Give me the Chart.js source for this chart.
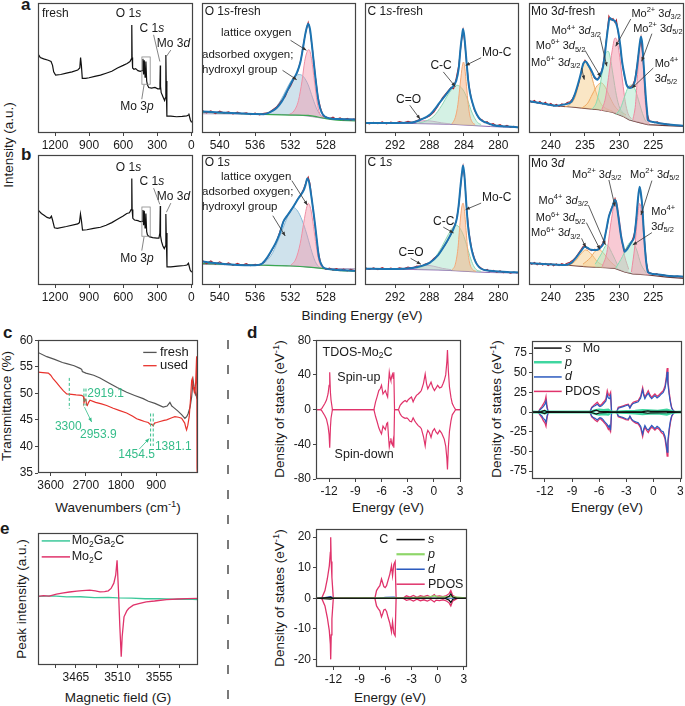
<!DOCTYPE html>
<html>
<head>
<meta charset="utf-8">
<script src="https://cdn.jsdelivr.net/npm/chart.js@4.4.1/dist/chart.umd.min.js"></script>
<style>
  body { margin: 0; width: 685px; height: 706px; position: relative; overflow: hidden; background: #fff;
         font-family: "Liberation Sans", Arial, sans-serif; color: #1a1a1a; }
  canvas { position: absolute; }
  .lab { position: absolute; font-size: 13.5px; white-space: nowrap; line-height: 1; }
  .ylab { transform: translate(-50%, -50%) rotate(-90deg); }
  .xlab { transform: translate(-50%, -50%); }
  .letter { position: absolute; font-weight: bold; font-size: 17px; line-height: 1; }
  sup, sub { font-size: 70%; line-height: 0; }
</style>
</head>
<body>
<svg style="position:absolute;left:0;top:0" width="685" height="706">
  <line x1="228" y1="340" x2="228" y2="706" stroke="#222" stroke-width="1.2" stroke-dasharray="9 16"/>
</svg>
<div class="letter" style="left:21px;top:-4px">a</div>
<div class="letter" style="left:21px;top:146px">b</div>
<div class="letter" style="left:3px;top:324px">c</div>
<div class="letter" style="left:247px;top:324px">d</div>
<div class="letter" style="left:0px;top:520px">e</div>

<div class="lab ylab" style="left:9px;top:145px">Intensity (a.u.)</div>
<div class="lab xlab" style="left:362px;top:316px">Binding Energy (eV)</div>
<div class="lab ylab" style="left:7px;top:406px">Transmittance (%)</div>
<div class="lab xlab" style="left:118px;top:508px">Wavenumbers (cm<sup>-1</sup>)</div>
<div class="lab ylab" style="left:280px;top:409px">Density of states (eV<sup>-1</sup>)</div>
<div class="lab xlab" style="left:388px;top:508px">Energy (eV)</div>
<div class="lab ylab" style="left:497px;top:409px">Density of states (eV<sup>-1</sup>)</div>
<div class="lab xlab" style="left:607px;top:508px">Energy (eV)</div>
<div class="lab ylab" style="left:280px;top:598px">Density of states (eV<sup>-1</sup>)</div>
<div class="lab xlab" style="left:390px;top:698px">Energy (eV)</div>
<div class="lab ylab" style="left:22px;top:599px">Peak intensity (a.u.)</div>
<div class="lab xlab" style="left:118px;top:698px">Magnetic field (G)</div>

<script>
// ---- XPS survey (a, b) ----
const surveyFresh = [[1350,61],[1330,58],[1300,57],[1260,56],[1235,55],[1222,52],[1212,47],[1195,44.5],[1150,45],[1100,46],[1050,47],[1000,48.5],[982,50],[975,58],[968,52],[960,42],[930,42],[900,42.5],[850,43.5],[800,44.5],[750,46],[700,47.5],[650,50],[600,52],[565,53.5],[540,55],[528,57],[525,62],[523,83],[521,58],[517,50],[505,49],[490,49.5],[470,48],[450,47.5],[432,48],[426,57],[420,45],[414,56],[407,43],[400,55],[393,40],[386,37],[375,35],[350,34.5],[320,35],[295,34],[282,34],[276,38],[273,52],[271,36],[265,31],[255,29],[245,27],[235,25],[228,27],[225,35],[223,60],[221,40],[215,13],[180,13],[130,12.5],[80,12.8],[40,13.2],[25,13.8],[21,15],[17,13],[8,10],[0,8.5],[-15,8.5]];
const surveyUsed = [[1350,57.7],[1320,55],[1300,53.8],[1270,52],[1245,51.3],[1232,53],[1222,50],[1205,44],[1180,43.6],[1100,45],[1000,47],[985,48],[976,54.6],[968,50],[958,42.3],[920,42.5],[860,43.5],[800,44.4],[750,46],[700,48],[650,50.5],[600,53],[568,55],[545,55.5],[530,58],[525,65],[523,82],[521,58],[515,51.3],[500,50],[470,49.5],[450,48.7],[432,49],[426,57.7],[420,46],[414,57],[407,44],[400,55],[393,41],[386,38.5],[370,37.2],[340,36.5],[303,36],[285,36],[277,40],[273,60.8],[271,38],[262,33.3],[250,30],[238,28],[228,30],[225,38],[223,54.6],[221,40],[214,14],[180,14],[120,14.5],[60,15],[38,15.4],[25,16.7],[20,15],[10,11.5],[0,10.3],[-15,10]];
const surveyTicks = [1200, 900, 600, 300, 0];

// ---- O 1s ----
const o1sTicks = [540, 536, 532, 528];
const o1sFreshEnv = [[542,16.5],[540,15.8],[538,15.2],[536,14.6],[535,14.5],[534.3,16],[533.6,19],[533,24],[532.4,32],[531.8,40],[531.3,46],[530.9,54],[530.6,65],[530.3,77],[530,84],[529.8,80],[529.6,69],[529.4,56],[529.2,43.6],[529,32],[528.8,23],[528.5,16],[528.1,12.5],[527.5,11.2],[526,10.6],[524.6,10.3]];
const o1sFreshRaw = [[542,17.5],[541.5,15.5],[541,17],[540.5,15],[540,16.8],[539.5,15.3],[539,16.2],[538.5,14.6],[538,16],[537.5,14.8],[537,15.6],[536.5,14.2],[536,15.4],[535.5,14],[535,15.2],[534.5,15.5],[534,18],[533.5,20.5],[533,25],[532.6,28],[532.3,33],[532,36],[531.6,42],[531.2,47],[530.8,57],[530.5,70],[530.2,80],[530,85],[529.8,79],[529.5,63],[529.2,44],[528.9,28],[528.6,19],[528.3,13],[528,12.5],[527.6,11],[527.2,12.2],[526.8,10.5],[526.4,11.6],[526,10],[525.6,11.2],[525.2,9.8],[524.8,10.8]];
const o1sFreshAds = [[535,14.5],[534.3,16],[533.5,21],[532.8,29],[532.2,37],[531.6,43],[531,45],[530.5,43],[530,37],[529.5,27],[529,18],[528.5,13],[528,11.5]];
const o1sFreshLat = [[532.2,14],[531.6,17],[531.1,25],[530.7,40],[530.4,55],[530.1,63],[529.9,64],[529.6,56],[529.3,40],[529,24],[528.7,15],[528.3,12],[528,11.5]];
const o1sFreshBg = [[542,14.8],[535,14.5],[533,14.3],[531,13.8],[529.5,12.5],[528.5,11.5],[528,11.2],[524.6,11]];
const o1sFreshLine = [[542,16],[538,15],[535,14.3],[532,13.8],[530,13.5],[529,12.5],[528,11],[527,10],[524.6,9.3]];

const o1sUsedEnv = [[542,18],[540,16.5],[538,15.4],[536,15.2],[535.3,16],[534.7,20.5],[534.2,26],[533.7,32],[533.2,40],[532.8,48.7],[532.3,54],[531.8,59],[531.1,66.7],[530.5,73],[530.3,77],[530.1,82],[529.9,79],[529.6,66],[529.4,56],[529.2,45],[529,33],[528.8,21.8],[528.5,15.5],[528.1,12.8],[527,11.8],[524.6,11]];
const o1sUsedRaw = [[542,19],[541.5,16.5],[541,18.5],[540.5,16],[540,17.8],[539.5,15.6],[539,17],[538.5,15],[538,16.6],[537.5,15.2],[537,16.4],[536.5,14.8],[536,16],[535.5,15.4],[535,17.5],[534.5,22],[534,28],[533.6,33],[533.2,41],[532.8,49],[532.4,53],[532,57],[531.6,61],[531.2,66],[530.8,70],[530.5,74],[530.2,80],[530,83],[529.8,78],[529.5,61],[529.2,44],[528.9,27],[528.6,17],[528.3,13.5],[528,12],[527.6,13],[527.2,11.5],[526.8,12.6],[526.4,11],[526,12.3],[525.6,10.8],[525.2,12],[524.8,11.2]];
const o1sUsedAds = [[535.6,15.4],[534.8,18],[534,25],[533.3,36],[532.6,48],[532.1,56],[531.7,59.7],[531.2,57],[530.7,50],[530.2,40],[529.7,28],[529.2,18],[528.7,13.5],[528.3,12.8]];
const o1sUsedLat = [[532,15],[531.4,20],[530.9,32],[530.5,48],[530.2,59],[530,62.8],[529.7,58],[529.4,45],[529.1,30],[528.8,19],[528.5,14],[528.2,12.8]];
const o1sUsedBg = [[542,15.8],[535.6,15.4],[533,15],[531,14.5],[529.5,13.5],[528.2,12.8],[524.6,12.5]];
const o1sUsedLine = [[542,16.7],[538,15.6],[535,15.2],[532,14.6],[530,13.8],[528.5,12.8],[527,11.5],[524.6,10.6]];

// ---- C 1s ----
const c1sTicks = [292, 288, 284, 280];
const c1sFreshEnv = [[295.5,7.7],[292,7.7],[290.3,7.8],[289.1,10],[287.9,14.5],[286.8,23.5],[285.6,33.7],[284.9,40],[284.6,50],[284.4,65],[284.2,76],[284.1,80],[283.95,74],[283.7,55],[283.5,40],[283.3,31],[283,23],[282.7,17],[282.3,12],[281.9,9.4],[281,7],[280.6,6],[279,5],[277.6,4.3]];
const c1sFreshRaw = [[295.5,8.5],[295,7],[294.5,8.2],[294,7.2],[293.5,8.6],[293,7],[292.5,8.4],[292,7.4],[291.5,8.8],[291,7.8],[290.5,9],[290,8],[289.5,9.5],[289,10.8],[288.5,11.5],[288,13],[287.5,16],[287,21],[286.5,27],[286,31],[285.5,35],[285.2,34],[284.9,42],[284.6,52],[284.3,70],[284.1,79],[283.9,70],[283.7,54],[283.4,36],[283.1,25],[282.8,18],[282.5,14],[282.2,11],[281.9,10.2],[281.6,8],[281.3,8.8],[281,6.5],[280.6,7.2],[280.2,5.5],[279.8,6.4],[279.4,4.8],[279,5.8],[278.6,4.5],[278.2,5.2],[277.8,4.2]];
const c1sFreshCC = [[289.5,7.5],[288.5,9],[287.5,13],[286.6,21],[285.8,30],[285.2,35],[284.8,36.7],[284.4,35.5],[284,32],[283.6,26],[283.2,18],[282.8,12],[282.4,8],[282,6.5]];
const c1sFreshMoC = [[285.4,7],[285,12],[284.7,22],[284.4,40],[284.2,51],[284.05,54.6],[283.9,50],[283.7,36],[283.5,22],[283.3,13],[283,8],[282.7,6.5]];
const c1sFreshCO = [[291.5,7.6],[290.3,8],[289.3,9],[288.5,9.5],[287.6,9],[286.6,7.8],[285.6,7]];
const c1sFreshBg = [[295.5,7.5],[290,7.3],[287,7],[285,6.5],[283,5.8],[281,5],[277.6,4.3]];

const c1sUsedEnv = [[295.5,12.5],[293,12.3],[291,12.5],[290,13],[289,14.5],[288,17],[287,23],[286.2,31],[285.6,38],[285.1,45],[284.8,52],[284.6,62],[284.4,76],[284.2,88],[284.1,92],[283.95,85],[283.75,65],[283.55,47],[283.35,36],[283.1,27],[282.8,20],[282.4,15],[282,12.5],[281,11],[279,10],[277.6,9.6]];
const c1sUsedRaw = [[295.5,13.5],[295,12],[294.5,13.2],[294,11.8],[293.5,13.4],[293,12],[292.5,13.1],[292,11.9],[291.5,13.3],[291,12.4],[290.5,13.8],[290,12.8],[289.5,14.6],[289,14.2],[288.5,16.2],[288,17],[287.5,20.5],[287,23],[286.5,28],[286,33],[285.5,39],[285.2,44],[284.9,49],[284.6,61],[284.3,82],[284.1,91],[283.9,81],[283.7,60],[283.4,40],[283.1,28],[282.8,21],[282.5,16],[282.2,14],[281.9,12.6],[281.6,11.2],[281.3,12],[281,10.4],[280.6,11.3],[280.2,9.8],[279.8,10.8],[279.4,9.5],[279,10.4],[278.6,9.2],[278.2,10],[277.8,9.3]];
const c1sUsedCC = [[289.5,13],[288.5,15],[287.5,20],[286.6,29],[285.8,39],[285.2,45],[284.9,46],[284.5,44],[284.1,39],[283.7,31],[283.3,22],[282.9,15],[282.5,11.5],[282,10.5]];
const c1sUsedMoC = [[285.4,11.5],[285,16],[284.7,28],[284.45,48],[284.25,60],[284.1,63],[283.95,58],[283.75,42],[283.55,26],[283.3,16],[283,12],[282.6,10.5]];
const c1sUsedCO = [[291.5,12.5],[290.3,13.2],[289.2,14.6],[288.4,15.2],[287.5,14.4],[286.5,12.8],[285.5,11.8]];
const c1sUsedBg = [[295.5,12.3],[290,12],[287,11.6],[285,11],[283,10.2],[281,9.6],[277.6,9.2]];

// ---- Mo 3d ----
const mo3dTicks = [240, 235, 230, 225];
const mo3dFreshEnv = [[243.2,24.4],[241,22.5],[239.4,21],[238,22],[237,24],[236.5,29.5],[236,38],[235.6,46],[235.3,52.6],[234.9,55],[234.5,52],[234,47.4],[233.6,43],[233.2,41],[232.8,44],[232.4,50],[232.1,60],[231.8,74],[231.6,82],[231.4,88.5],[231,87],[230.6,86],[230.3,82],[230.1,77],[229.8,66],[229.6,56],[229.2,44],[228.9,37],[228.4,34.6],[228,36],[227.7,39.7],[227.4,50],[227.2,59],[227,68],[226.8,74],[226.6,68],[226.5,60],[226.3,44],[226.1,28],[225.9,16],[225.8,10],[225,8.5],[224.3,7.7],[222,6.2],[220.5,5.6]];
const mo3dFreshRaw = [[243.2,25.5],[242.8,23.8],[242.4,25],[242,23],[241.6,24.3],[241.2,22.2],[240.8,23.6],[240.4,21.5],[240,22.8],[239.6,20.8],[239.2,22],[238.8,20.6],[238.4,22.5],[238,21.8],[237.6,23.5],[237.2,24],[236.8,26.5],[236.4,31],[236,37],[235.6,45],[235.3,53],[235,56],[234.7,54],[234.4,51],[234,47],[233.6,42],[233.2,41.5],[232.8,44],[232.4,51],[232.1,62],[231.8,75],[231.5,90],[231.2,87],[230.9,88],[230.6,85],[230.4,87],[230.1,76],[229.8,64],[229.5,52],[229.2,43],[228.9,37],[228.6,35],[228.3,35.5],[228,37],[227.7,41],[227.4,51],[227.1,63],[226.8,73],[226.5,58],[226.2,33],[225.9,15],[225.6,9.5],[225.2,8.8],[224.8,8],[224.4,8.6],[224,7.4],[223.5,7.2],[223,6.8],[222.5,6.5],[222,6.2],[221.5,6],[221,5.7],[220.6,5.6]];
const mo3dFreshBg = [[243.2,24.4],[241,22.5],[239.4,21],[237,20],[235,19],[233,18],[231,16],[229.5,13],[228.5,10],[227,8],[225.8,6.4],[223,5.6],[220.5,5]];
const mo3dFreshMo6a = [[238,20],[237.2,22],[236.5,27],[235.9,38],[235.4,50],[234.9,55],[234.4,51],[233.9,41],[233.3,30],[232.6,22],[231.8,18.5],[231,17]];
const mo3dFreshMo6b = [[235.5,19],[234.6,23],[233.9,30],[233.2,36.5],[232.6,38.5],[232,35],[231.4,28],[230.7,21],[230,17],[229,14]];
const mo3dFreshMo4a = [[234,18],[233.3,24],[232.8,36],[232.3,53],[231.9,62],[231.6,62.8],[231.3,58],[230.9,45],[230.4,29],[229.9,19],[229.3,15]];
const mo3dFreshMo2a = [[232.6,17],[232,27],[231.5,45],[231,64],[230.6,73],[230.3,71],[229.9,58],[229.5,40],[229.1,24],[228.7,15],[228.2,11]];
const mo3dFreshMo4b = [[230.5,14],[229.8,19],[229.2,28],[228.7,35],[228.2,37],[227.7,34],[227.2,26],[226.7,17],[226.2,10],[225.7,7]];
const mo3dFreshMo2b = [[228,10],[227.6,22],[227.3,45],[227,66],[226.8,74],[226.6,66],[226.4,46],[226.2,26],[225.9,12],[225.6,7]];

const mo3dUsedEnv = [[243.2,16.7],[240.5,16],[237.9,15.4],[237,17],[236.2,21.8],[235.6,26],[235,29.5],[234.6,28.5],[234.3,27.4],[233.8,27],[233.3,27],[232.8,28.5],[232.3,32],[231.9,42],[231.5,52.6],[231,60],[230.6,65.4],[230.4,62.8],[230.1,52],[229.7,37],[229.4,30],[229.2,25.6],[228.9,27],[228.6,29.5],[228.2,33],[227.8,37],[227.5,50],[227.3,62.8],[227,75.6],[226.8,70],[226.6,60],[226.4,42],[226.2,27],[226,16],[225.8,10],[225,8.5],[223,7.2],[220.5,6.4]];
const mo3dUsedRaw = [[243.2,17.8],[242.8,16],[242.4,17.3],[242,15.6],[241.6,17],[241.2,15.3],[240.8,16.6],[240.4,15],[240,16.4],[239.6,14.8],[239.2,16.2],[238.8,15],[238.4,16.5],[238,15.6],[237.6,16.8],[237.2,17.5],[236.8,19],[236.4,21],[236,24],[235.6,27],[235.3,29.5],[235,30.5],[234.7,28],[234.4,27.5],[234,26.5],[233.6,27.5],[233.2,27],[232.8,29],[232.4,32],[232.1,37],[231.8,44],[231.5,53],[231.2,58],[230.9,62],[230.6,66.5],[230.4,63],[230.1,53],[229.8,40],[229.5,31],[229.2,26],[228.9,27.5],[228.6,30],[228.3,32],[228,35.5],[227.7,41],[227.4,56],[227.1,72],[226.9,74],[226.6,60],[226.3,35],[226,17],[225.7,9.5],[225.3,9],[224.9,8],[224.5,8.7],[224.1,7.6],[223.6,7.8],[223,7],[222.5,7.2],[222,6.5],[221.5,6.8],[221,6.2],[220.6,6.3]];
const mo3dUsedBg = [[243.2,16.7],[240.5,16],[237.9,15.4],[235,14.2],[232,13.3],[230.6,12.8],[229.2,10],[228,8.5],[225.8,7.7],[223,6],[220.5,5.1]];
const mo3dUsedMo6a = [[237.5,15],[236.5,18],[235.6,24],[234.9,27],[234.1,24],[233.2,18],[232.3,15]];
const mo3dUsedMo6b = [[235.3,16],[234.2,21],[233.5,26],[232.9,27],[232.2,24],[231.3,18],[230.4,14]];
const mo3dUsedMo4a = [[233.5,16],[232.6,24],[231.8,30.8],[231,24],[230.2,15]];
const mo3dUsedMo2a = [[232.5,14],[231.8,25],[231.2,48],[230.5,65.4],[229.9,48],[229.3,25],[228.6,12]];
const mo3dUsedMo4b = [[230.5,13],[229.5,22],[228.8,30],[228.2,33.3],[227.5,28],[226.8,16],[226,9]];
const mo3dUsedMo2b = [[228.2,10],[227.7,30],[227.3,52],[227,62.8],[226.6,50],[226.2,25],[225.7,8]];

// ---- FTIR (c) ----
const ftirTicks = [3600, 2700, 1800, 900];
const ftirYTicks = [35, 40, 45, 50, 55, 60];
const ftirFresh = [[3925,57.7],[3700,56.9],[3500,56.4],[3300,55.8],[3191,55.6],[3000,55.2],[2850,54.7],[2807,54.5],[2790,54.1],[2700,53.8],[2500,53.4],[2339,52.9],[2100,51.9],[1900,51.1],[1656,50.2],[1450,49.6],[1232,49],[1100,48.5],[933,48.1],[720,47.4],[620,47.6],[549,48.3],[500,47.6],[465,47.4],[350,46.7],[250,46],[165,45.3],[120,45.6],[81,46.2],[30,47.5],[-7,49.3],[-30,51.2],[-47,52.4],[-70,51.2],[-90,50.5],[-134,49.3],[-150,50],[-165,49.5]];
const ftirUsed = [[3925,54],[3800,53.9],[3661,53.8],[3600,53.4],[3534,52.7],[3450,52],[3362,51.2],[3280,50.5],[3191,49.9],[3063,49.8],[2950,49.7],[2807,49.6],[2760,49.4],[2749,48.2],[2720,48.9],[2697,48.7],[2680,47.8],[2664,47.7],[2630,48.3],[2595,48.7],[2450,48.3],[2300,48],[2168,47.7],[2000,47.2],[1850,46.8],[1656,46.3],[1500,45.7],[1400,45.2],[1316,45],[1200,44.7],[1104,44.5],[1043,44.1],[1017,44.2],[976,43.9],[940,44.4],[889,44.5],[800,44.7],[700,44.9],[633,45],[500,45.4],[421,45.6],[330,45.5],[250,45.3],[170,44.4],[140,43.5],[122,43.1],[90,44],[55,45.6],[20,49],[-7,52.4],[-25,52.8],[-47,51.2],[-65,50.6],[-90,50.2],[-110,52],[-134,56.8],[-140,57],[-145,36],[-150,35]];

// ---- DOS (d) ----
const dosTicks = [-12, -9, -6, -3, 0, 3];
const tdosYTicks = [-80, -40, 0, 40, 80];
const tdosUp = [[-13.5,0],[-13.0,0],[-12.86,1],[-12.49,7],[-12.3,11],[-12.12,18],[-12.0,28],[-11.93,43],[-11.85,20],[-11.78,11],[-11.62,0],[-6.87,0],[-6.68,9],[-6.5,15],[-6.31,22],[-6.15,24],[-6.0,28],[-5.83,18],[-5.7,20],[-5.56,22],[-5.4,17],[-5.3,14.5],[-5.2,30],[-5.11,43],[-5.0,36],[-4.93,33.5],[-4.84,38],[-4.74,41],[-4.65,36],[-4.59,43],[-4.51,0],[-4.06,0],[-3.87,5],[-3.7,7],[-3.5,9],[-3.3,10.5],[-3.1,9],[-2.94,11.4],[-2.75,13],[-2.57,14.5],[-2.38,9],[-2.2,13],[-2.0,16.4],[-1.8,18],[-1.6,20],[-1.44,22],[-1.2,30],[-1.0,41],[-0.85,30],[-0.7,24],[-0.5,28],[-0.33,31.6],[-0.15,26],[0.06,22],[0.25,25],[0.43,28],[0.65,25],[0.88,26],[1.05,30],[1.18,33.5],[1.35,40],[1.48,55],[1.55,68.6],[1.65,45],[1.78,26],[1.95,14],[2.1,7],[2.3,3],[2.48,0],[3.1,0]];
const tdosDown = [[-13.5,0],[-13.0,0],[-12.86,-1],[-12.49,-7],[-12.3,-11],[-12.12,-19],[-12.0,-29],[-11.93,-44],[-11.85,-21],[-11.78,-10],[-11.62,0],[-6.87,0],[-6.68,-8],[-6.5,-14],[-6.31,-21],[-6.15,-25],[-6.0,-28],[-5.83,-19],[-5.7,-21],[-5.56,-23],[-5.4,-16],[-5.3,-15],[-5.2,-31],[-5.11,-43],[-5.0,-37],[-4.93,-33],[-4.84,-39],[-4.74,-41],[-4.65,-35],[-4.59,-44],[-4.51,0],[-4.06,0],[-3.87,-5],[-3.7,-7.5],[-3.5,-9],[-3.3,-10],[-3.1,-9.5],[-2.94,-11],[-2.75,-13.5],[-2.57,-14],[-2.38,-9.5],[-2.2,-13],[-2.0,-16],[-1.8,-18.5],[-1.6,-20],[-1.44,-22],[-1.2,-31],[-1.0,-42],[-0.85,-29],[-0.7,-24],[-0.5,-27],[-0.33,-32],[-0.15,-25],[0.06,-22],[0.25,-26],[0.43,-28],[0.65,-24],[0.88,-27],[1.05,-31],[1.18,-34],[1.35,-42],[1.48,-56],[1.55,-69],[1.65,-44],[1.78,-25],[1.95,-13],[2.1,-6],[2.3,-3],[2.48,0],[3.1,0]];

const moYTicks = [-75, -50, -25, 0, 25, 50, 75];
const moPdosUp = [[-13.44,0],[-12.74,0],[-12.55,4],[-12.35,7],[-12.19,10],[-12.0,14],[-11.89,19.6],[-11.8,10],[-11.75,6],[-11.63,0],[-7.02,0],[-6.83,6],[-6.64,8],[-6.46,10],[-6.21,12.5],[-6.05,10],[-5.91,8],[-5.72,10],[-5.54,12.5],[-5.4,14],[-5.25,16.7],[-5.1,27],[-4.98,22],[-4.88,20.8],[-4.8,23],[-4.73,25],[-4.62,0],[-4.06,0],[-3.88,6],[-3.6,7],[-3.33,8],[-3.05,9],[-2.77,10],[-2.59,6],[-2.4,10],[-2.22,12.5],[-1.95,13.5],[-1.67,14.6],[-1.4,20],[-1.18,31],[-1.05,23],[-0.93,18.7],[-0.75,23],[-0.56,27],[-0.38,22],[-0.18,18.7],[0.0,21],[0.18,23],[0.42,20],[0.66,22],[0.9,25],[1.1,27],[1.3,33],[1.45,45],[1.54,56],[1.62,40],[1.76,25],[1.9,14],[2.03,6],[2.2,2],[2.4,0],[3.18,0]];
const moPdosDown = [[-13.44,0],[-12.74,0],[-12.55,-4],[-12.35,-7],[-12.19,-11],[-12.0,-14],[-11.89,-18],[-11.8,-10],[-11.75,-6],[-11.63,0],[-7.02,0],[-6.83,-6],[-6.64,-8],[-6.46,-10],[-6.21,-12],[-6.05,-10],[-5.91,-8],[-5.72,-10],[-5.54,-12],[-5.4,-14],[-5.25,-16],[-5.1,-19],[-4.98,-22],[-4.88,-20],[-4.8,-23],[-4.73,-24],[-4.62,0],[-4.06,0],[-3.88,-6],[-3.6,-7],[-3.33,-8],[-3.05,-9.5],[-2.77,-10],[-2.59,-6],[-2.4,-10],[-2.22,-12],[-1.95,-14],[-1.67,-15],[-1.4,-20],[-1.18,-31],[-1.05,-23],[-0.93,-19],[-0.75,-23],[-0.56,-26],[-0.38,-22],[-0.18,-19],[0.0,-21],[0.18,-23],[0.42,-20],[0.66,-22],[0.9,-26],[1.1,-28],[1.3,-34],[1.45,-46],[1.54,-56],[1.62,-40],[1.76,-24],[1.9,-13],[2.03,-6],[2.2,-2],[2.4,0],[3.18,0]];
const moDUp = [[-13.44,0],[-12.74,0],[-12.55,3],[-12.35,5],[-12.19,7],[-12.0,10],[-11.89,14],[-11.8,7],[-11.75,4],[-11.63,0],[-7.02,0],[-6.83,5],[-6.64,7],[-6.46,8],[-6.21,10],[-6.05,8],[-5.91,7],[-5.72,8],[-5.54,10],[-5.4,12],[-5.25,14],[-5.1,22],[-4.98,18],[-4.88,17],[-4.8,19],[-4.73,21],[-4.62,0],[-4.06,0],[-3.88,5],[-3.6,6],[-3.33,7],[-3.05,8],[-2.77,9],[-2.59,5],[-2.4,9],[-2.22,11],[-1.95,12],[-1.67,13],[-1.4,18],[-1.18,28],[-1.05,21],[-0.93,17],[-0.75,21],[-0.56,24],[-0.38,20],[-0.18,17],[0.0,19],[0.18,21],[0.42,18],[0.66,20],[0.9,23],[1.1,25],[1.3,30],[1.45,41],[1.54,51],[1.62,36],[1.76,22],[1.9,12],[2.03,5],[2.2,2],[2.4,0],[3.18,0]];
const moDDown = [[-13.44,0],[-12.74,0],[-12.55,-3],[-12.35,-5],[-12.19,-8],[-12.0,-10],[-11.89,-13],[-11.8,-7],[-11.75,-4],[-11.63,0],[-7.02,0],[-6.83,-5],[-6.64,-7],[-6.46,-8],[-6.21,-10],[-6.05,-8],[-5.91,-7],[-5.72,-8],[-5.54,-10],[-5.4,-12],[-5.25,-14],[-5.1,-16],[-4.98,-19],[-4.88,-17],[-4.8,-20],[-4.73,-21],[-4.62,0],[-4.06,0],[-3.88,-5],[-3.6,-6],[-3.33,-7],[-3.05,-8.5],[-2.77,-9],[-2.59,-5],[-2.4,-9],[-2.22,-11],[-1.95,-12.5],[-1.67,-13.5],[-1.4,-18],[-1.18,-28],[-1.05,-21],[-0.93,-17],[-0.75,-21],[-0.56,-23],[-0.38,-20],[-0.18,-17],[0.0,-19],[0.18,-21],[0.42,-18],[0.66,-20],[0.9,-24],[1.1,-25],[1.3,-31],[1.45,-42],[1.54,-51],[1.62,-36],[1.76,-21],[1.9,-11],[2.03,-5],[2.2,-2],[2.4,0],[3.18,0]];
const moPUp = [[-13.44,0],[-12.5,0.5],[-12.0,1.5],[-11.7,0],[-7.0,0],[-6.5,2],[-6.0,3],[-5.5,2.5],[-5.0,3],[-4.6,0],[-4.0,0.5],[-3.0,1],[-2.0,1.5],[-1.2,2.5],[-0.5,2],[0.5,1.5],[1.5,3],[2.2,0.5],[3.18,0]];
const moPDown = [[-13.44,0],[-12.5,-0.5],[-12.0,-1.5],[-11.7,0],[-7.0,0],[-6.5,-2],[-6.0,-3],[-5.5,-2.5],[-5.0,-3],[-4.6,0],[-4.0,-0.5],[-3.0,-1],[-2.0,-1.5],[-1.2,-2.5],[-0.5,-2],[0.5,-1.5],[1.5,-3],[2.2,-0.5],[3.18,0]];
const moSUp = [[-13.44,0],[-12.4,0.5],[-12.05,2],[-11.8,0.5],[-7.0,0],[-6.6,1.5],[-6.3,2.5],[-6.0,1],[-5.0,0.5],[-4.6,0],[-1.2,0.5],[-0.6,1.5],[-0.3,1],[1.5,0.8],[3.18,0]];
const moSDown = [[-13.44,0],[-12.4,-0.5],[-12.05,-2],[-11.8,-0.5],[-7.0,0],[-6.6,-1.5],[-6.3,-2.5],[-6.0,-1],[-5.0,-0.5],[-4.6,0],[-1.2,-0.5],[-0.6,-1.5],[-0.3,-1],[1.5,-0.8],[3.18,0]];

const cYTicks = [-20, -10, 0, 10, 20];
const cPdosUp = [[-14,0],[-13.35,0],[-12.97,2.5],[-12.7,6.3],[-12.47,10.6],[-12.35,15],[-12.31,20],[-12.25,12],[-12.17,6.8],[-12.01,0],[-7.23,0],[-7.04,2.5],[-6.85,3.4],[-6.66,4.1],[-6.47,6.3],[-6.33,5],[-6.2,3.8],[-6.05,3.5],[-5.89,4.1],[-5.7,6],[-5.51,7.9],[-5.32,10.6],[-5.2,7.4],[-5.05,11.1],[-4.9,12],[-4.79,0],[-4.0,0],[-3.6,0.8],[-3.2,0.4],[-2.8,0.9],[-2.4,0.3],[-2.0,0.8],[-1.6,0.5],[-1.2,0.9],[-0.8,0.4],[-0.4,1.2],[-0.2,0.6],[0.2,0.8],[0.6,0.5],[1.0,0.9],[1.3,1.5],[1.5,2.5],[1.7,1],[2.0,0.5],[2.3,0],[3.36,0]];
const cPdosDown = [[-14,0],[-13.35,0],[-12.97,-2.5],[-12.7,-6.3],[-12.47,-10.6],[-12.35,-15],[-12.31,-20],[-12.25,-12],[-12.17,-6.8],[-12.01,0],[-7.23,0],[-7.04,-2.5],[-6.85,-3.4],[-6.66,-4.1],[-6.47,-6.1],[-6.33,-5],[-6.2,-3.8],[-6.05,-3.6],[-5.89,-4.3],[-5.7,-6.4],[-5.51,-8.2],[-5.32,-11],[-5.2,-7.8],[-5.05,-11.5],[-4.9,-12.3],[-4.79,0],[-4.0,0],[-3.6,-0.7],[-3.2,-0.4],[-2.8,-0.9],[-2.4,-0.3],[-2.0,-0.8],[-1.6,-0.5],[-1.2,-0.9],[-0.8,-0.4],[-0.4,-1.2],[-0.2,-0.6],[0.2,-0.8],[0.6,-0.5],[1.0,-0.9],[1.3,-1.5],[1.5,-2.5],[1.7,-1],[2.0,-0.5],[2.3,0],[3.36,0]];
const cDUp = [[-14,0],[-13,0.2],[-12.3,0.5],[-12,0],[-7,0],[-6,0.3],[-5,0.4],[-4.7,0],[3.36,0]];
const cPUp = [[-14,0],[-3,0.2],[-1,0.4],[-0.3,0.8],[0,0.3],[1.5,0.6],[3.36,0]];
const cSUp = [[-14,0],[-12.3,0.3],[-12,0],[0.8,0],[1.3,0.6],[1.5,1.4],[1.7,0.4],[2.2,0],[3.36,0]];
const cSDown = [[-14,0],[-12.3,-0.3],[-12,0],[0.8,0],[1.3,-0.6],[1.5,-1.4],[1.7,-0.4],[2.2,0],[3.36,0]];

// ---- EPR (e) ----
const eprTicks = [3442.5, 3465, 3487.5, 3510, 3532.5, 3555, 3577.5];
const eprMinor = [3442.5, 3487.5, 3532.5, 3577.5];
const eprMo2Ga2C = [[3424,52],[3440,52.3],[3455,51.6],[3470,51.7],[3485,51.1],[3500,51.2],[3510,50.8],[3525,50.6],[3540,50.2],[3555,50.3],[3570,49.8],[3585,49.9],[3597,49.6]];
const eprMo2C = [[3424,52],[3430,52.5],[3436,52.2],[3444,53.7],[3450,54.5],[3458,55.3],[3466,56],[3472,56.4],[3480,56.7],[3486,56.2],[3491,55.4],[3496,55.6],[3500,56.2],[3503,58],[3506,62],[3508,68],[3509.5,79.3],[3511,56.7],[3512.5,29],[3514,6.3],[3515,21.4],[3517,36.5],[3520,41],[3522,42.8],[3527,45.3],[3533,46.5],[3541,47.9],[3550,48.5],[3563,49.6],[3575,50],[3585,50.3],[3597,50.4]];

// ---------------------------------------------------------------
const FONT = '"Liberation Sans", Arial, sans-serif';
const pts = a => a.map(p => ({ x: p[0], y: p[1] }));

function L(arr, color, w, more) {
  return Object.assign({ data: pts(arr), borderColor: color, borderWidth: w, fill: false, pointRadius: 0 }, more || {});
}
const smooth = { cubicInterpolationMode: 'monotone' };

// rich text: ^{sup} _{sub} *{italic}
function parseRich(s) {
  const out = [], re = /(\^|_|\*)\{([^}]*)\}/g;
  let last = 0, m;
  while ((m = re.exec(s))) {
    if (m.index > last) out.push([s.slice(last, m.index), '']);
    out.push([m[2], m[1]]);
    last = re.lastIndex;
  }
  if (last < s.length) out.push([s.slice(last), '']);
  return out;
}
function drawRich(ctx, x, y, s, size, color, align) {
  const segs = parseRich(s);
  const fontOf = k => (k === '*' ? 'italic ' : '') + (k === '^' || k === '_' ? size * 0.68 : size) + 'px ' + FONT;
  let w = 0;
  segs.forEach(g => { ctx.font = fontOf(g[1]); g.push(ctx.measureText(g[0]).width); w += g[2]; });
  let cx = align === 'center' ? x - w / 2 : align === 'right' ? x - w : x;
  ctx.fillStyle = color; ctx.textBaseline = 'middle'; ctx.textAlign = 'left';
  segs.forEach(g => {
    ctx.font = fontOf(g[1]);
    const dy = g[1] === '^' ? -size * 0.35 : g[1] === '_' ? size * 0.3 : 0;
    ctx.fillText(g[0], cx, y + dy);
    cx += g[2];
  });
}

// annotations, all placed in data units through the chart's scales
function notesPlugin(items) {
  return {
    id: 'notes',
    afterDatasetsDraw(chart) {
      const { ctx, scales: { x, y } } = chart;
      const X = v => x.getPixelForValue(v), Y = v => y.getPixelForValue(v);
      items.forEach(n => {
        ctx.save();
        ctx.strokeStyle = n.color || '#333';
        ctx.fillStyle = n.color || '#333';
        ctx.lineWidth = n.width || 0.8;
        if (n.dash) ctx.setLineDash(n.dash);
        if (n.line || n.arrow) {
          const [x1, y1, x2, y2] = n.line || n.arrow;
          const p1 = [X(x1), Y(y1)], p2 = [X(x2), Y(y2)];
          ctx.beginPath(); ctx.moveTo(p1[0], p1[1]); ctx.lineTo(p2[0], p2[1]); ctx.stroke();
          if (n.arrow) {
            const a = Math.atan2(p2[1] - p1[1], p2[0] - p1[0]), h = 4.5;
            ctx.setLineDash([]);
            ctx.beginPath(); ctx.moveTo(p2[0], p2[1]);
            ctx.lineTo(p2[0] - h * Math.cos(a - 0.4), p2[1] - h * Math.sin(a - 0.4));
            ctx.lineTo(p2[0] - h * Math.cos(a + 0.4), p2[1] - h * Math.sin(a + 0.4));
            ctx.closePath(); ctx.fill();
          }
        }
        if (n.rect) {
          const [x1, y1, x2, y2] = n.rect;
          ctx.strokeRect(X(x1), Y(y2), X(x2) - X(x1), Y(y1) - Y(y2));
        }
        if (n.text) drawRich(ctx, X(n.x), Y(n.y), n.text, n.size || 12, n.color || '#1a1a1a', n.align || 'left');
        ctx.restore();
      });
    }
  };
}

const frame = {
  id: 'frame',
  afterDraw(chart) {
    const { ctx, chartArea: a } = chart;
    ctx.save();
    ctx.strokeStyle = '#444'; ctx.lineWidth = 1.2;
    ctx.strokeRect(Math.round(a.left) + 0.5, Math.round(a.top) + 0.5, Math.round(a.right - a.left) - 1, Math.round(a.bottom - a.top) - 1);
    ctx.restore();
  }
};

function plot(box, xs, ys, sets, notes) {
  const padL = 40, padT = 8, padR = 8, padB = 22;
  const cv = document.createElement('canvas');
  cv.width = box[2] - box[0] + padL + padR;
  cv.height = box[3] - box[1] + padT + padB;
  cv.style.left = (box[0] - padL) + 'px';
  cv.style.top = (box[1] - padT) + 'px';
  document.body.appendChild(cv);
  const axis = (s, isX) => ({
    type: 'linear', min: s.min, max: s.max, reverse: !!s.reverse,
    afterBuildTicks: sc => { sc.ticks = (s.ticks || []).map(v => ({ value: v })); },
    afterFit: sc => { if (isX) sc.height = padB; else sc.width = padL; },
    ticks: {
      display: !!s.ticks, font: { size: 12, family: FONT }, color: '#1a1a1a', padding: 2,
      maxRotation: 0, autoSkip: false,
      callback: v => (s.blank && s.blank.includes(v)) ? '' : String(v)
    },
    grid: { display: !!s.ticks, drawOnChartArea: false, drawTicks: true, tickLength: 3, color: '#444' },
    border: { display: false }
  });
  return new Chart(cv, {
    type: 'line',
    data: { datasets: sets },
    options: {
      responsive: false, animation: false, events: [],
      layout: { padding: { top: padT, right: padR, left: 0, bottom: 0 } },
      elements: { point: { radius: 0 }, line: { tension: 0 } },
      plugins: { legend: { display: false }, tooltip: { enabled: false } },
      scales: { x: axis(xs, true), y: axis(ys, false) }
    },
    plugins: [frame, notesPlugin(notes || [])]
  });
}

// colours
const ENV = '#1c74b2', RAW = '#b3232e';

// ---------------- a / b : surveys ----------------
function surveyNotes(yO, yC, yMo, yP, yLead, fresh) {
  const n = [
    { text: 'O 1*{s}', x: 553, y: yO, align: 'center' },
    { text: 'C 1*{s}', x: 347, y: yC, align: 'center' },
    { text: 'Mo 3*{d}', x: 157, y: yMo, align: 'center' },
    { text: 'Mo 3*{p}', x: 479, y: yP, align: 'center' },
    { line: [332, yC - 5, 277, yLead[0]], color: '#666' },
    { line: [180, yMo - 5, 219, yLead[1]], color: '#666' },
    { line: [436, yP + 6, 416, 37], color: '#666' },
    { rect: [435, 37.5, 362, yLead[2]], color: '#888' }
  ];
  if (fresh) n.push({ text: 'fresh', x: 1315, y: 92 });
  return n;
}
const surveyX = { min: -15, max: 1350, reverse: true, ticks: surveyTicks };
const xpsY = { min: 0, max: 100 };
plot([38, 3, 193, 133], surveyX, xpsY, [L(surveyFresh, '#111', 1.2)], surveyNotes(92, 80.5, 68.8, 20, [55, 59, 58.5], true));
plot([38, 155, 193, 285], surveyX, xpsY, [L(surveyUsed, '#111', 1.2)], surveyNotes(90, 79.5, 68, 20.5, [62, 56, 60], false));

// ---------------- O 1s ----------------
function o1sSets(env, raw, lat, ads, line, bg) {
  return [
    L(env, ENV, 2, smooth),
    L(raw, RAW, 1.1),
    L(line, '#3aa852', 1.2, smooth),
    L(lat, '#ef8fa5', 1, Object.assign({ fill: 5, backgroundColor: 'rgba(242,150,170,0.45)' }, smooth)),
    L(ads, '#86b8d6', 1, Object.assign({ fill: 5, backgroundColor: 'rgba(140,185,210,0.42)' }, smooth)),
    L(bg, '#a79bbd', 1)
  ];
}
const o1sX = { min: 524.6, max: 542, reverse: true, ticks: o1sTicks };
plot([202, 3, 356, 133], o1sX, xpsY,
  o1sSets(o1sFreshEnv, o1sFreshRaw, o1sFreshLat, o1sFreshAds, o1sFreshLine, o1sFreshBg), [
  { text: 'O 1*{s}-fresh', x: 541.7, y: 93 },
  { text: 'lattice oxygen', x: 539.85, y: 77, size: 11.5 },
  { arrow: [532.0, 71.3, 530.2, 63.6] },
  { text: 'adsorbed oxygen;', x: 542.0, y: 60.3, size: 11.5 },
  { text: 'hydroxyl group', x: 542.0, y: 48.7, size: 11.5 },
  { arrow: [532.9, 48.2, 531.3, 41] }
]);
plot([202, 155, 356, 285], o1sX, xpsY,
  o1sSets(o1sUsedEnv, o1sUsedRaw, o1sUsedLat, o1sUsedAds, o1sUsedLine, o1sUsedBg), [
  { text: 'O 1*{s}', x: 541.7, y: 94 },
  { text: 'lattice oxygen', x: 539.85, y: 83.3, size: 11.5 },
  { arrow: [531.85, 80.3, 530.1, 61.5] },
  { text: 'adsorbed oxygen;', x: 542.0, y: 71.8, size: 11.5 },
  { text: 'hydroxyl group', x: 542.0, y: 60.3, size: 11.5 },
  { arrow: [534.0, 53.3, 532.6, 37.7] }
]);

// ---------------- C 1s ----------------
function c1sSets(env, raw, moc, cc, co, bg) {
  return [
    L(env, ENV, 2, smooth),
    L(raw, RAW, 1.1),
    L(moc, '#f2a877', 1, Object.assign({ fill: 5, backgroundColor: 'rgba(246,178,130,0.5)' }, smooth)),
    L(cc, '#8fd6b3', 1, Object.assign({ fill: 5, backgroundColor: 'rgba(160,224,196,0.45)' }, smooth)),
    L(co, '#d993c3', 1, Object.assign({ fill: 5, backgroundColor: 'rgba(230,165,205,0.4)' }, smooth)),
    L(bg, '#8b6bb0', 1.1)
  ];
}
const c1sX = { min: 277.6, max: 295.5, reverse: true, ticks: c1sTicks };
plot([365, 3, 519, 133], c1sX, xpsY,
  c1sSets(c1sFreshEnv, c1sFreshRaw, c1sFreshMoC, c1sFreshCC, c1sFreshCO, c1sFreshBg), [
  { text: 'C 1*{s}-fresh', x: 295.2, y: 93 },
  { text: 'Mo-C', x: 281.9, y: 61.7 },
  { arrow: [282.0, 57.9, 283.8, 52] },
  { text: 'C-C', x: 287.9, y: 51.5 },
  { arrow: [286.4, 47, 285.0, 35.7] },
  { text: 'C=O', x: 291.9, y: 26 },
  { arrow: [290.3, 21.4, 289.1, 10.7] }
]);
plot([365, 155, 519, 285], c1sX, xpsY,
  c1sSets(c1sUsedEnv, c1sUsedRaw, c1sUsedMoC, c1sUsedCC, c1sUsedCO, c1sUsedBg), [
  { text: 'C 1*{s}', x: 295.2, y: 94 },
  { text: 'Mo-C', x: 281.9, y: 67 },
  { arrow: [282.0, 63, 283.8, 58] },
  { text: 'C-C', x: 287.6, y: 49 },
  { arrow: [286.4, 44.5, 285.2, 40] },
  { text: 'C=O', x: 291.6, y: 25 },
  { arrow: [290.2, 20.5, 289.0, 16] }
]);

// ---------------- Mo 3d ----------------
function mo3dSets(env, raw, c, bg) {
  const comp = (d, line, fillCol) => L(d, line, 1, Object.assign({ fill: 8, backgroundColor: fillCol }, smooth));
  return [
    L(env, ENV, 2, smooth),
    L(raw, RAW, 1.1),
    comp(c[5], '#ee8aa0', 'rgba(242,150,170,0.5)'),
    comp(c[4], '#86dbb2', 'rgba(160,228,196,0.45)'),
    comp(c[3], '#ee8aa0', 'rgba(242,150,170,0.5)'),
    comp(c[2], '#86dbb2', 'rgba(160,228,196,0.45)'),
    comp(c[1], '#efa860', 'rgba(246,205,140,0.45)'),
    comp(c[0], '#efa860', 'rgba(246,205,140,0.5)'),
    L(bg, '#6b3a3a', 1.2)
  ];
}
const MS = 11;
const mo3dX = { min: 220.5, max: 243.2, reverse: true, ticks: mo3dTicks };
plot([529, 3, 684, 133], mo3dX, xpsY,
  mo3dSets(mo3dFreshEnv, mo3dFreshRaw,
    [mo3dFreshMo6a, mo3dFreshMo6b, mo3dFreshMo4a, mo3dFreshMo2a, mo3dFreshMo4b, mo3dFreshMo2b], mo3dFreshBg), [
  { text: 'Mo 3*{d}-fresh', x: 242.9, y: 93 },
  { text: 'Mo^{2+} 3*{d}_{3/2}', x: 228.2, y: 91.8, size: MS },
  { arrow: [228.3, 87.7, 230.5, 66.7] },
  { text: 'Mo^{2+} 3*{d}_{5/2}', x: 227.95, y: 80, size: MS },
  { arrow: [225.2, 76.4, 226.7, 55.1] },
  { text: 'Mo^{4+} 3*{d}_{3/2}', x: 239.9, y: 78.2, size: MS },
  { arrow: [232.8, 73.8, 231.8, 51.3] },
  { text: 'Mo^{6+} 3*{d}_{5/2}', x: 242.2, y: 66.7, size: MS },
  { arrow: [235.0, 63.6, 232.7, 43.1] },
  { text: 'Mo^{6+} 3*{d}_{3/2}', x: 242.9, y: 53.8, size: MS },
  { arrow: [235.5, 50, 235.1, 41] },
  { text: 'Mo^{4+}', x: 224.8, y: 53.3, size: MS },
  { text: '3*{d}_{5/2}', x: 224.8, y: 41.8, size: MS },
  { arrow: [225.0, 50, 228.1, 34.6] }
]);
plot([529, 155, 684, 285], mo3dX, xpsY,
  mo3dSets(mo3dUsedEnv, mo3dUsedRaw,
    [mo3dUsedMo6a, mo3dUsedMo6b, mo3dUsedMo4a, mo3dUsedMo2a, mo3dUsedMo4b, mo3dUsedMo2b], mo3dUsedBg), [
  { text: 'Mo 3*{d}', x: 242.9, y: 93.6 },
  { text: 'Mo^{2+} 3*{d}_{3/2}', x: 236.9, y: 84.6, size: MS },
  { arrow: [231.5, 80.8, 230.6, 60.3] },
  { text: 'Mo^{2+} 3*{d}_{5/2}', x: 228.4, y: 84.6, size: MS },
  { arrow: [225.2, 80.3, 226.8, 53.8] },
  { text: 'Mo^{4+} 3*{d}_{3/2}', x: 241.8, y: 64.9, size: MS },
  { arrow: [234.5, 61.5, 232.0, 30.8] },
  { text: 'Mo^{6+} 3*{d}_{5/2}', x: 242.2, y: 51.3, size: MS },
  { arrow: [234.8, 48, 232.8, 27.4] },
  { text: 'Mo^{6+} 3*{d}_{3/2}', x: 242.9, y: 39.7, size: MS },
  { arrow: [235.5, 35.9, 234.9, 29] },
  { text: 'Mo^{4+}', x: 225.3, y: 56.4, size: MS },
  { text: '3*{d}_{5/2}', x: 225.3, y: 44.9, size: MS },
  { arrow: [225.2, 40.3, 228.0, 30.8] }
]);

// ---------------- c : FTIR ----------------
const GRN = '#35bd8a';
plot([38, 339, 198, 473], { min: -170, max: 3925, reverse: true, ticks: ftirTicks }, { min: 35, max: 60, ticks: ftirYTicks },
  [L(ftirUsed, '#e8322c', 1.2), L(ftirFresh, '#555', 1.2)], [
  { line: [3124, 52.9, 3124, 47.1], color: GRN, dash: [3, 2], width: 1 },
  { line: [2749, 50.9, 2749, 47.7], color: GRN, dash: [3, 2], width: 1 },
  { line: [2697, 50.9, 2697, 47.7], color: GRN, dash: [3, 2], width: 1 },
  { line: [1043, 46.2, 1043, 40.1], color: GRN, dash: [3, 2], width: 1 },
  { line: [976, 46.2, 976, 40.1], color: GRN, dash: [3, 2], width: 1 },
  { text: '3300', x: 3150, y: 43.8, color: GRN, align: 'center', size: 12 },
  { text: '2919.1', x: 2664, y: 49.9, color: GRN, size: 12 },
  { arrow: [2736, 47.4, 2552, 44.6], color: GRN },
  { text: '2953.9', x: 2851, y: 42.2, color: GRN, size: 12 },
  { arrow: [1334, 39.5, 1078, 41.5], color: GRN },
  { text: '1454.5', x: 1871, y: 38.4, color: GRN, size: 12 },
  { text: '1381.1', x: 933, y: 40, color: GRN, size: 12 },
  { line: [1232, 57.7, 889, 57.7], color: '#555', width: 1.3 },
  { text: 'fresh', x: 805, y: 57.7, size: 13 },
  { line: [1232, 55.2, 889, 55.2], color: '#e8322c', width: 1.3 },
  { text: 'used', x: 805, y: 55.2, size: 13 }
]);

// ---------------- d : DOS ----------------
const PINK = '#e0336b', BLUE = '#2c5bbf';
plot([316, 339, 461, 479], { min: -13.5, max: 3.1, ticks: dosTicks }, { min: -80, max: 80, ticks: tdosYTicks },
  [L(tdosUp, PINK, 1.2), L(tdosDown, PINK, 1.2)], [
  { text: 'TDOS-Mo_{2}C', x: -12.75, y: 66, size: 12.5 },
  { text: 'Spin-up', x: -11.06, y: 36.6, size: 12.5 },
  { text: 'Spin-down', x: -11.37, y: -52.2, size: 12.5 }
]);
plot([532, 340, 682, 479], { min: -13.44, max: 3.18, ticks: dosTicks }, { min: -85, max: 90, ticks: moYTicks },
  [L(moSUp, '#111', 1.2), L(moSDown, '#111', 1.2), L(moPUp, '#3fd6a0', 2.4), L(moPDown, '#3fd6a0', 2.4),
   L(moDUp, BLUE, 1.2), L(moDDown, BLUE, 1.2), L(moPdosUp, PINK, 1.3), L(moPdosDown, PINK, 1.3)], [
  { line: [-13.22, 81.25, -10.15, 81.25], color: '#111', width: 1.5 },
  { text: '*{s}', x: -9.79, y: 81.25, size: 12.5 },
  { text: 'Mo', x: -7.83, y: 81, size: 12.5 },
  { line: [-13.22, 63.3, -10.15, 63.3], color: '#3fd6a0', width: 2.5 },
  { text: '*{p}', x: -9.79, y: 63.3, size: 12.5 },
  { line: [-13.22, 44.6, -10.15, 44.6], color: BLUE, width: 1.5 },
  { text: '*{d}', x: -9.79, y: 44.6, size: 12.5 },
  { line: [-13.22, 26.25, -10.15, 26.25], color: PINK, width: 1.5 },
  { text: 'PDOS', x: -9.79, y: 26.25, size: 12.5 }
]);
plot([316, 528, 467, 667], { min: -14, max: 3.36, ticks: dosTicks }, { min: -22.5, max: 22.6, ticks: cYTicks },
  [L(cSUp, '#111', 1.2), L(cSDown, '#111', 1.2), L(cPUp, '#8fd66a', 1.5),
   L(cDUp, BLUE, 1.2), L(cPdosUp, PINK, 1.3), L(cPdosDown, PINK, 1.3)], [
  { text: 'C', x: -6.74, y: 19.2, size: 12.5 },
  { line: [-4.75, 19.2, -1.5, 19.2], color: '#111', width: 1.5 },
  { text: '*{s}', x: -1.12, y: 19.2, size: 12.5 },
  { line: [-4.75, 14.4, -1.5, 14.4], color: '#8fd66a', width: 2.2 },
  { text: '*{p}', x: -1.12, y: 14.4, size: 12.5 },
  { line: [-4.75, 9.5, -1.5, 9.5], color: BLUE, width: 1.5 },
  { text: '*{d}', x: -1.12, y: 9.5, size: 12.5 },
  { line: [-4.75, 4.6, -1.5, 4.6], color: PINK, width: 1.5 },
  { text: 'PDOS', x: -1.12, y: 4.6, size: 12.5 }
]);

// ---------------- e : EPR ----------------
plot([38, 533, 198, 665], { min: 3424, max: 3597, ticks: eprTicks, blank: eprMinor }, { min: 0, max: 100 },
  [L(eprMo2C, PINK, 1.3), L(eprMo2Ga2C, '#3cc89a', 1.3)], [
  { line: [3428, 94, 3458.6, 94], color: '#3cc89a', width: 1.5 },
  { text: 'Mo_{2}Ga_{2}C', x: 3460.4, y: 94, size: 12.5 },
  { line: [3428, 81.9, 3458.6, 81.9], color: PINK, width: 1.5 },
  { text: 'Mo_{2}C', x: 3460.4, y: 81.9, size: 12.5 }
]);
</script>
</body>
</html>
